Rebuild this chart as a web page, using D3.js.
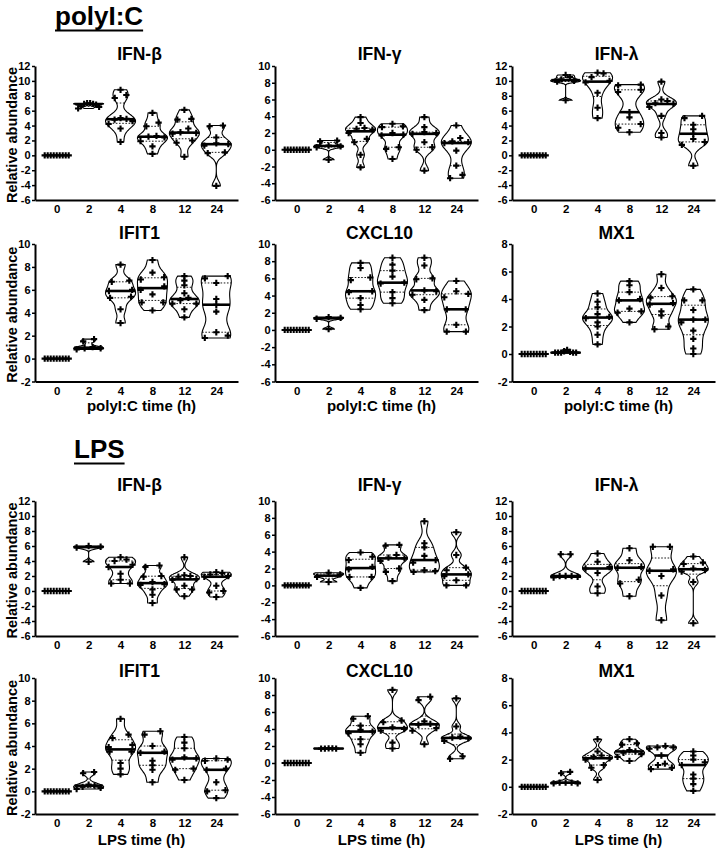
<!DOCTYPE html>
<html><head><meta charset="utf-8">
<script src="https://cdn.jsdelivr.net/npm/d3@7"></script>
<style>
body{margin:0;background:#fff}
text{font-family:"Liberation Sans",Arial,sans-serif;font-weight:bold;fill:#000}
</style></head>
<body><svg id="chart" width="723" height="851"></svg>
<script>
// ---------- data ----------
const times = ["0","2","4","8","12","24"];
const genes = ["IFN-β","IFN-γ","IFN-λ","IFIT1","CXCL10","MX1"];
const treatments = ["polyI:C","LPS"];
const zero = [0,0,0,0,0,0,0,0,0];

const polyIFNB = [zero,
  [7.0,7.0,6.9,6.9,6.8,6.6,6.5,6.3],
  [8.8,8.1,7.7,5.0,4.9,4.8,4.6,4.2,3.6,1.8],
  [5.7,4.4,3.9,2.6,2.5,2.4,1.9,1.2,0.2],
  [6.1,4.9,4.8,3.6,3.1,3.0,2.9,2.0,1.7,-0.2],
  [4.0,3.9,2.4,1.6,1.5,1.3,0.4,0.3,-4.1]];
const polyIFNG = [zero,
  [1.1,1.0,0.5,0.4,0.3,-1.2],
  [3.9,3.2,2.6,2.5,2.4,2.0,1.3,0.9,-0.6,-2.1],
  [3.1,2.8,2.7,2.0,1.8,1.7,0.3,0.1,-1.1],
  [3.9,2.7,2.1,2.0,1.9,0.9,0.3,0.0,-2.5],
  [2.9,1.4,1.0,0.9,0.8,-0.1,-1.9,-3.0,-3.4]];
const polyIFNL = [zero,
  [10.8,10.5,10.2,10.0,9.9,7.4],
  [11.1,11.0,10.5,10.0,9.8,8.4,6.4,5.0],
  [9.5,9.4,8.8,8.5,5.8,5.1,4.2,3.7,3.1],
  [9.9,7.5,7.3,7.0,6.9,6.5,5.3,3.0,2.4],
  [5.3,5.0,4.1,3.5,2.9,2.2,1.8,1.4,-1.4]];
const polyIFIT1 = [zero,
  [1.7,1.5,1.0,0.9,0.9,0.8],
  [8.2,6.8,6.7,6.0,5.9,5.4,5.3,4.3,3.1],
  [8.6,7.5,7.1,6.9,6.3,6.0,5.6,4.9,4.9,4.2],
  [7.2,6.8,6.4,5.7,5.3,5.1,4.8,4.8,4.3,3.6],
  [7.2,7.0,6.6,5.2,4.7,4.1,2.3,2.0,1.8]];
const polyCXCL10 = [zero,
  [1.5,1.4,1.3,0.1],
  [7.8,7.2,6.1,5.8,4.5,4.4,3.7,2.9,2.4],
  [8.4,7.6,6.9,6.2,5.5,5.4,4.4,3.7,3.1],
  [8.4,7.5,6.0,5.9,4.6,4.5,4.1,3.5,2.3],
  [5.7,4.5,4.2,3.8,2.4,2.4,0.6,-0.2,-0.2]];
const polyMX1 = [zero,
  [0.3,0.2,0.15,0.1,0.1,0.1,0.1,0.1],
  [4.4,3.8,3.4,2.9,2.7,2.6,2.3,2.0,1.4,0.7],
  [5.3,5.0,4.5,4.0,3.9,3.3,3.1,3.0,2.3],
  [5.8,4.8,4.2,4.1,3.7,3.6,3.1,2.8,2.0,1.8],
  [4.7,3.9,3.9,3.2,2.5,2.5,2.3,1.7,1.1,0.4,0.0]];

const lpsIFNB = [zero,
  [6.0,5.9,5.8,3.9],
  [4.5,4.2,4.0,3.5,3.2,2.3,1.5,1.0,1.0],
  [3.4,3.2,2.0,1.9,1.2,0.9,0.8,0.2,-0.5,-1.6],
  [4.5,2.1,2.0,1.9,1.6,1.5,0.7,0.2,0.2,-0.7],
  [2.5,2.4,2.2,2.0,1.9,0.7,0.0,-0.2,-0.8]];
const lpsIFNG = [zero,
  [1.5,1.3,1.0,0.4],
  [3.9,3.4,3.0,2.2,1.9,1.0,1.0,-0.3],
  [4.8,4.7,3.6,3.3,3.2,2.9,2.0,1.6,0.5],
  [7.6,5.0,4.5,3.5,3.0,2.7,1.8,1.7,1.6],
  [6.3,3.6,2.1,1.8,1.3,1.1,0.6,0.0,0.0]];
const lpsIFNL = [zero,
  [4.9,4.9,2.0,2.0,2.0,1.9,1.8],
  [5.0,3.9,3.2,3.0,2.4,0.6,-0.3],
  [5.7,4.1,3.2,3.1,1.5,1.0,-0.7],
  [5.9,5.9,2.9,2.7,2.0,-0.6,-3.9],
  [4.6,3.8,3.6,3.0,2.8,2.6,1.2,-4.3]];
const lpsIFIT1 = [zero,
  [1.7,1.6,0.6,0.5,0.4,0.3,0.2],
  [6.4,5.0,4.7,4.1,3.9,3.5,3.5,2.5,2.0,1.5],
  [5.3,5.0,4.0,3.5,3.4,2.7,2.3,1.9,0.8],
  [4.8,4.3,3.8,3.0,2.9,2.8,2.0,1.9,1.0],
  [2.9,2.8,2.7,2.0,1.9,0.8,0.1,0.0,-0.6]];
const lpsCXCL10 = [zero,
  [1.72,1.70,1.69,1.71,1.70],
  [5.5,5.2,4.4,3.9,3.7,3.5,2.8,2.2,1.2],
  [8.6,5.0,4.8,4.2,4.0,3.8,2.4,1.7],
  [7.8,7.4,4.9,4.6,4.5,4.1,3.8,2.2],
  [7.6,4.3,3.1,3.0,2.9,2.6,0.8,0.5]];
const lpsMX1 = [zero,
  [1.1,1.0,0.3,0.3,0.3,0.25,0.25],
  [3.5,2.6,2.3,2.2,2.1,2.0,1.6,1.4,0.5],
  [3.5,3.2,3.1,2.7,2.6,2.5,2.4,2.2,1.9],
  [3.0,2.9,2.9,2.8,2.3,1.7,1.6,1.4,1.3],
  [2.6,2.3,2.0,1.8,1.6,0.9,0.6,0.2,-0.3]];

const yDomains = [[-6,12],[-6,10],[-6,12],[-2,10],[-6,10],[-2,8]];
const panelData = [
  [polyIFNB, polyIFNG, polyIFNL, polyIFIT1, polyCXCL10, polyMX1],
  [lpsIFNB, lpsIFNG, lpsIFNL, lpsIFIT1, lpsCXCL10, lpsMX1]];

// ---------- layout ----------
const colX = [35, 275, 512];
const plotW = 203;
const rows = [
  {top:66,  bottom:200, title:60},
  {top:244, bottom:381.5, title:239},
  {top:501, bottom:636, title:491},
  {top:678, bottom:814, title:677}];
const halfMax = 15;

const svg = d3.select("#chart");

function bandwidth(v){
  const n=v.length, s=[...v].sort(d3.ascending);
  const sd=d3.deviation(s)||0;
  const iqr=d3.quantile(s,.75)-d3.quantile(s,.25);
  let m=Math.min(sd, iqr/1.34);
  if(!(m>0)) m=sd;
  if(!(m>0)) m=(s[n-1]-s[0])||1;
  return 0.72*0.9*m*Math.pow(n,-0.2);
}

function drawPanel(g, data, domain, x, y){
  times.forEach((t,gi)=>{
    const vals = data[gi];
    const s=[...vals].sort(d3.ascending);
    const lo=s[0], hi=s[s.length-1];
    const cx = x(t);
    let widthAt = ()=>0;
    if(hi-lo>1e-9){
      const h=bandwidth(s);
      const dens = v=>d3.sum(s,d=>Math.exp(-0.5*((v-d)/h)**2));
      const samples=d3.range(0,61).map(i=>lo+(hi-lo)*i/60);
      const dv=samples.map(dens);
      const mx=d3.max(dv);
      const pts=samples.map((v,i)=>({v,w:halfMax*dv[i]/mx}));
      widthAt = v=>halfMax*dens(v)/mx;
      const area=d3.area().y(d=>y(d.v)).x0(d=>cx-d.w).x1(d=>cx+d.w).curve(d3.curveCatmullRom);
      g.append("path").attr("d",area(pts)).attr("fill","#fff").attr("stroke","#000").attr("stroke-width",1.1);
      [0.25,0.75].forEach(q=>{
        const qv=d3.quantile(s,q), w=widthAt(qv);
        g.append("line").attr("x1",cx-w).attr("x2",cx+w).attr("y1",y(qv)).attr("y2",y(qv))
          .attr("stroke","#000").attr("stroke-width",0.9).attr("stroke-dasharray","1.6,1.6");
      });
      const md=d3.median(s), wm=widthAt(md);
      g.append("line").attr("x1",cx-wm).attr("x2",cx+wm).attr("y1",y(md)).attr("y2",y(md))
        .attr("stroke","#000").attr("stroke-width",2.6);
    }
    const p=s.map(v=>({v}));
    const clusters=[]; let cur=[];
    p.forEach(d=>{
      if(cur.length && Math.abs(y(d.v)-y(cur[cur.length-1].v))>4){clusters.push(cur);cur=[];}
      cur.push(d);
    });
    if(cur.length) clusters.push(cur);
    clusters.forEach(cl=>{
      const k=cl.length;
      if(k===1){cl[0].x=cx;return;}
      const lw=widthAt(d3.mean(cl,d=>d.v))*2;
      const span=Math.min(24, Math.max((k-1)*3, lw*0.8));
      const pos=d3.range(k).map(i=>cx-span/2+span*i/(k-1));
      const order=[]; let a=0,b=k-1;
      while(a<=b){order.push(a++); if(a<=b) order.push(b--);}
      cl.forEach((d,i)=>d.x=pos[order[i]]);
    });
    g.selectAll(null).data(p).enter().append("path")
      .attr("d",d3.symbol(d3.symbolCross,22)())
      .attr("transform",d=>`translate(${d.x},${y(d.v)})`)
      .attr("fill","#000");
  });
}

treatments.forEach((tr,ti)=>{
  genes.forEach((gene,gi)=>{
    const row=rows[ti*2+Math.floor(gi/3)], col=gi%3;
    const x0=colX[col];
    const domain=yDomains[gi];
    const y=d3.scaleLinear().domain(domain).range([row.bottom,row.top]);
    const x=d3.scalePoint().domain(times).range([x0,x0+plotW]).padding(0.68);
    const g=svg.append("g");
    const ticks=d3.range(domain[0],domain[1]+1,2);
    const ya=g.append("g").attr("transform",`translate(${x0},0)`)
      .call(d3.axisLeft(y).tickValues(ticks).tickSize(3).tickSizeOuter(0).tickPadding(1.5).tickFormat(d=>String(d)));
    ya.select(".domain").attr("stroke-width",2);
    ya.selectAll(".tick line").attr("stroke-width",1.5);
    ya.selectAll("text").style("font-size","11px").attr("font-family",null);
    const xa=g.append("g").attr("transform",`translate(0,${row.bottom})`)
      .call(d3.axisBottom(x).tickSize(0).tickSizeOuter(0).tickPadding(5));
    xa.select(".domain").attr("stroke-width",2.2);
    xa.selectAll("text").style("font-size","11.5px").attr("font-family",null);
    g.append("text").attr("x",x0+plotW/2+3).attr("y",row.title).attr("text-anchor","middle")
      .style("font-size","17.5px").text(gene);
    if(col===0){
      g.append("text").attr("transform",`translate(17,${(row.top+row.bottom)/2+2}) rotate(-90)`)
        .attr("text-anchor","middle").style("font-size","14.5px").text("Relative abundance");
    }
    if(gi>=3){
      g.append("text").attr("x",x0+plotW/2+5).attr("y",row.bottom+(ti===0?29:31)).attr("text-anchor","middle")
        .style("font-size","15px").text(tr+" time (h)");
    }
    drawPanel(g, panelData[ti][gi], domain, x, y);
  });
});

const secs=[{t:"polyI:C",x:55,y:25},{t:"LPS",x:74,y:458}];
secs.forEach(s=>{
  const t=svg.append("text").attr("x",s.x).attr("y",s.y).style("font-size","26px").text(s.t);
  const w=t.node().getComputedTextLength();
  svg.append("line").attr("x1",s.x).attr("x2",s.x+w).attr("y1",s.y+5.5).attr("y2",s.y+5.5)
    .attr("stroke","#000").attr("stroke-width",2.2);
});
</script>
</body></html>
